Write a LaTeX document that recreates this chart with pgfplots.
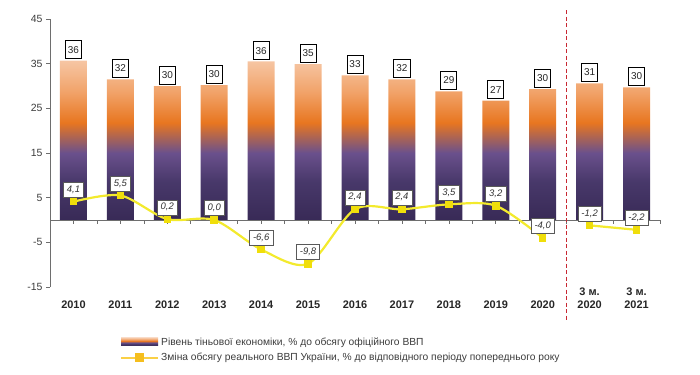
\documentclass[border=0pt]{standalone}
\usepackage{pgfplots}
\usepackage{pgfplotstable}
\pgfplotsset{compat=1.18}
\usepackage{fontspec}
\setmainfont{Liberation Sans}
\definecolor{barpeach}{RGB}{246,198,164}
\definecolor{barlight}{RGB}{241,162,104}
\definecolor{barorange}{RGB}{232,118,32}
\definecolor{barpurple}{RGB}{106,80,140}
\definecolor{bardeep}{RGB}{72,56,106}
\definecolor{bardark}{RGB}{56,42,86}
\definecolor{gdpline}{RGB}{243,234,45}
\definecolor{gdpmark}{RGB}{240,222,10}
\definecolor{legline}{RGB}{250,208,70}
\definecolor{legmark}{RGB}{245,190,30}
\definecolor{axgray}{RGB}{110,110,110}
\definecolor{txtgray}{RGB}{60,60,60}
\definecolor{sepred}{RGB}{200,40,50}
\pgfdeclareverticalshading{barshade}{100bp}{color(0bp)=(bardark); color(25bp)=(bardark); color(37bp)=(bardeep); color(46bp)=(barpurple); color(55.5bp)=(barorange); color(65bp)=(barlight); color(75bp)=(barpeach); color(100bp)=(barpeach)}

\pgfplotstableread{
x y lab
0 35.7 36
1 31.5 32
2 30.0 30
3 30.2 30
4 35.5 36
5 34.9 35
6 32.4 33
7 31.5 32
8 28.8 29
9 26.7 27
10 29.3 30
11 30.6 31
12 29.7 30
}\shadow

\pgfplotstableread{
x y lab
0 4.1 4,1
1 5.5 5,5
2 0.2 0,2
3 0.0 0,0
4 -6.6 -6,6
5 -9.8 -9,8
6 2.4 2,4
7 2.4 2,4
8 3.5 3,5
9 3.2 3,2
10 -4.0 -4,0
}\gdpA

\pgfplotstableread{
x y lab
11 -1.2 -1,2
12 -2.2 -2,2
}\gdpB

\begin{document}
\begin{tikzpicture}
\path[use as bounding box] (0,0) rectangle (700bp,375bp);
\begin{axis}[
  at={(50bp,88bp)}, anchor=south west,
  scale only axis, width=610bp, height=268bp,
  xmin=-0.5, xmax=12.5, ymin=-15, ymax=45,
  axis y line*=left, axis x line*=bottom,
  x axis line style={draw=none},
  y axis line style={draw=axgray, line width=0.6bp, -},
  ytick={-15,-5,5,15,25,35,45},
  yticklabels={-15,-5,5,15,25,35,45},
  ytick style={draw=axgray, line width=0.6bp},
  tick align=outside, major tick length=4bp,
  xtick={0,1,2,3,4,5,6,7,8,9,10,11,12},
  xticklabels={2010,2011,2012,2013,2014,2015,2016,2017,2018,2019,2020,{3 м.\\2020},{3 м.\\2021}},
  xtick style={draw=none},
  xticklabel style={font=\bfseries\fontsize{11}{13.5}\selectfont, anchor=south, yshift=-18bp, inner sep=0pt, align=center, text=black!85},
  yticklabel style={font=\fontsize{10.5}{12}\selectfont, text=txtgray},
  clip=false,
  legend cell align=left,
  legend style={at={(axis description cs:0.1148,-0.18)}, anchor=north west, draw=none, fill=none,
    font=\fontsize{10.3}{12}\selectfont, text=txtgray, row sep=2.5bp, inner sep=0pt,
    /tikz/every even column/.style={column sep=2bp}},
]
\addplot[ybar, bar width=27bp, draw=none, shading=barshade,
  point meta=explicit symbolic, nodes near coords,
  nodes near coords style={font=\fontsize{10}{12}\selectfont, text=black!85, draw=black, fill=white, line width=0.8bp,
    inner xsep=2.5bp, inner ysep=5bp, text height=7.5bp, text depth=0.5bp, anchor=south, yshift=1.5bp},
  legend image code/.code={\path[shading=barshade] (0bp,-4bp) rectangle (37bp,4bp);}]
  table[x=x, y=y, meta=lab]{\shadow};
\addlegendentry{Рівень тіньової економіки, \% до обсягу офіційного ВВП}

\draw[axgray, line width=0.6bp] (axis cs:-0.5,0) -- (axis cs:12.5,0);
\pgfplotsinvokeforeach{-0.5,0,0.5,1,1.5,2,2.5,3,3.5,4,4.5,5,5.5,6,6.5,7,7.5,8,8.5,9,9.5,10,10.5,11,11.5,12,12.5}{\draw[axgray, line width=0.6bp] (axis cs:#1,0) -- ([yshift=-4bp]axis cs:#1,0);}

\addplot[gdpline, line width=2.2bp, smooth, mark=square*, mark size=3.3bp,
  mark options={fill=gdpmark, draw=gdpmark, line width=0pt},
  point meta=explicit symbolic, nodes near coords,
  nodes near coords style={font=\itshape\fontsize{9.5}{11}\selectfont, text=black!80, draw=black!65, fill=white, line width=0.6bp,
    inner xsep=3.5bp, inner ysep=3bp, text height=7bp, text depth=2bp, anchor=south, yshift=4bp},
  legend image code/.code={\draw[legline, line width=2bp] (0bp,0bp) -- (37bp,0bp); \fill[legmark] (15bp,-3.3bp) rectangle (22bp,3.3bp);}]
  table[x=x, y=y, meta=lab]{\gdpA};
\addlegendentry{Зміна обсягу реального ВВП України, \% до відповідного періоду попереднього року}

\addplot[gdpline, line width=2.2bp, mark=square*, mark size=3.3bp,
  mark options={fill=gdpmark, draw=gdpmark, line width=0pt},
  point meta=explicit symbolic, nodes near coords,
  nodes near coords style={font=\itshape\fontsize{9.5}{11}\selectfont, text=black!80, draw=black!65, fill=white, line width=0.6bp,
    inner xsep=3.5bp, inner ysep=3bp, text height=7bp, text depth=2bp, anchor=south, yshift=4bp},
  forget plot]
  table[x=x, y=y, meta=lab]{\gdpB};

\draw[sepred, line width=1.2bp, dash pattern=on 4bp off 2.5bp] (axis cs:10.5,47) -- (axis cs:10.5,-22.4);
\end{axis}
\end{tikzpicture}
\end{document}
